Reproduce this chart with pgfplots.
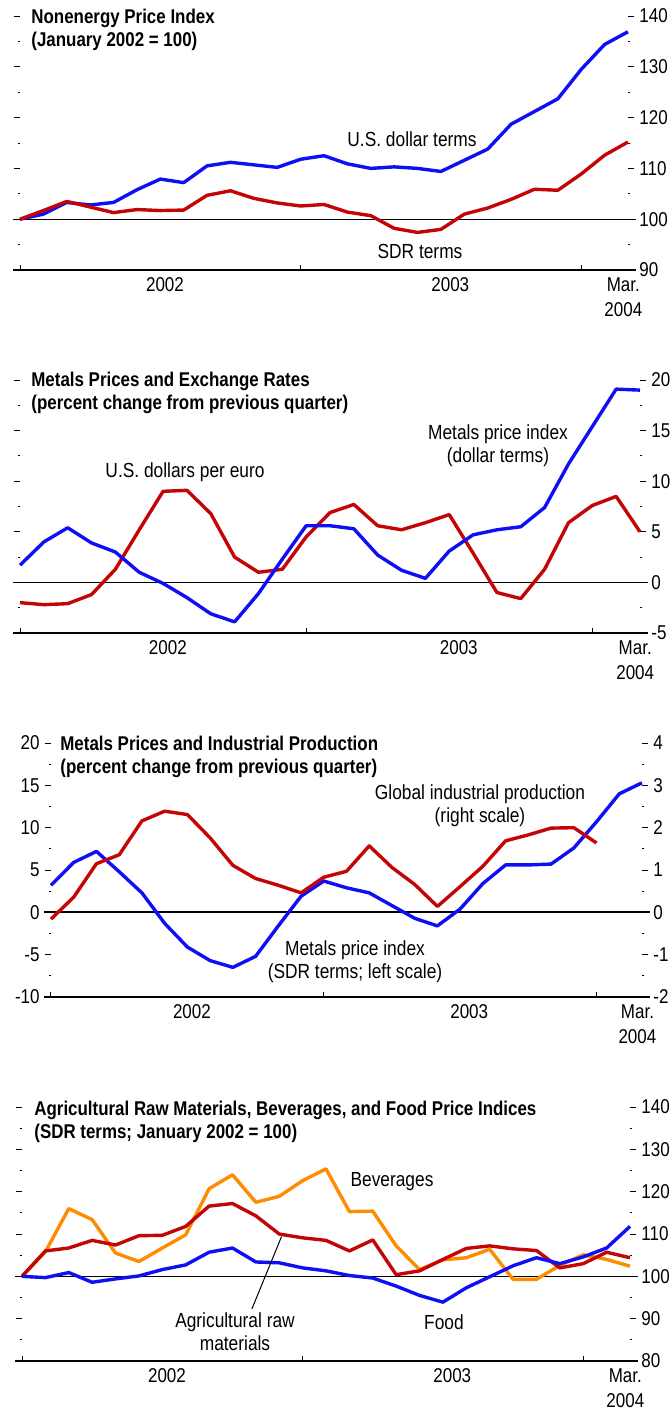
\documentclass[border=0pt]{standalone}
\usepackage{fontspec}
\setmainfont{Liberation Sans}[FakeStretch=0.85]
\usepackage{pgfplots}
\pgfplotsset{compat=1.18}
\definecolor{cblue}{RGB}{15,15,245}
\definecolor{cred}{RGB}{195,5,5}
\definecolor{corange}{RGB}{255,140,0}
\newcommand\tfont{\fontsize{10}{12.5}\selectfont}
\newcommand\afont{\fontsize{10.2}{11.5}\selectfont}
\newcommand\hfont{\bfseries\fontsize{9.95}{11.5}\selectfont}
\pgfplotsset{
  base/.style={
    scale only axis, clip=false,
    axis line style={draw=none},
    xmin=0, xmax=26,
    xtick={6.2,18.4,25.8},
    xticklabels={2002,2003,{Mar.\\2004}},
    major x tick style={draw=none},
    xticklabel style={font=\tfont, align=center, anchor=north, inner sep=0pt, yshift=-0.5pt},
    tick align=outside,
    major tick length=3pt, minor tick length=1.2pt,
    tick style={black, line width=0.5pt},
    minor y tick num=1,
    yticklabel style={font=\tfont, inner sep=0pt},
    /pgf/number format/assume math mode=true,
    every axis plot/.append style={line width=1.7pt, line join=round},
  },
  rightlab/.style={yticklabel pos=right, ytick pos=both, yticklabel style={anchor=west, xshift=2.5pt}},
}
\newcommand\yearticks[1]{%
  \draw[black, line width=0.5pt] (axis cs:0,#1) -- ([yshift=2.5pt]axis cs:0,#1);
  \draw[black, line width=0.5pt] (axis cs:12,#1) -- ([yshift=2.5pt]axis cs:12,#1);
  \draw[black, line width=0.5pt] (axis cs:24,#1) -- ([yshift=2.5pt]axis cs:24,#1);}
\begin{document}
\begin{tikzpicture}
\useasboundingbox (0,0) rectangle (335pt,-707pt);
% ---------------- Panel 1
\begin{axis}[base, rightlab, at={(10pt,-135pt)}, anchor=south west, width=304pt, height=127pt,
  ymin=90, ymax=140, ytick={90,100,...,140}]
\draw[black, line width=0.5pt] ([xshift=-3.5pt]axis cs:0,100) -- ([xshift=4pt]axis cs:26,100);
\draw[black, line width=0.6pt] ([xshift=-3.5pt]axis cs:0,90) -- ([xshift=4pt]axis cs:26,90);
\yearticks{90}
\addplot[cblue] coordinates {(0,100)(1,101)(2,103.3)(3,102.8)(4,103.3)(5,105.8)(6,107.9)(7,107.2)(8,110.5)(9,111.2)(10,110.7)(11,110.2)(12,111.8)(13,112.5)(14,110.9)(15,110)(16,110.3)(17,110)(18,109.4)(19,111.6)(20,113.8)(21,118.7)(22,121.2)(23,123.7)(24,129.5)(25,134.4)(26,136.9)};
\addplot[cred] coordinates {(0,100)(1,101.7)(2,103.5)(3,102.4)(4,101.3)(5,101.9)(6,101.7)(7,101.8)(8,104.7)(9,105.6)(10,104.1)(11,103.2)(12,102.6)(13,102.9)(14,101.4)(15,100.7)(16,98.2)(17,97.4)(18,98)(19,101)(20,102.2)(21,103.9)(22,105.9)(23,105.7)(24,108.9)(25,112.6)(26,115.2)};
\end{axis}
\node[anchor=north west, inner sep=0pt, align=left, font=\hfont] at (15.5pt,-4.5pt) {Nonenergy Price Index\\(January 2002 = 100)};
\node[font=\afont] at (206pt,-69.5pt) {U.S. dollar terms};
\node[font=\afont] at (210pt,-125.5pt) {SDR terms};
% ---------------- Panel 2
\begin{axis}[base, rightlab, at={(10pt,-316.5pt)}, anchor=south west, width=310pt, height=126.5pt,
  ymin=-5, ymax=20, ytick={-5,0,...,20}]
\draw[black, line width=0.5pt] ([xshift=-3.5pt]axis cs:0,0) -- ([xshift=4pt]axis cs:26,0);
\draw[black, line width=0.6pt] ([xshift=-3.5pt]axis cs:0,-5) -- ([xshift=4pt]axis cs:26,-5);
\yearticks{-5}
\addplot[cred] coordinates {(0,-2.0)(1,-2.2)(2,-2.1)(3,-1.2)(4,1.3)(5,5.2)(6,9.0)(7,9.1)(8,6.8)(9,2.5)(10,1.0)(11,1.3)(12,4.5)(13,6.9)(14,7.7)(15,5.6)(16,5.2)(17,5.9)(18,6.7)(19,2.9)(20,-1.0)(21,-1.6)(22,1.3)(23,5.9)(24,7.6)(25,8.5)(26,5.0)};
\addplot[cblue] coordinates {(0,1.7)(1,4.0)(2,5.4)(3,3.9)(4,3.0)(5,1.0)(6,-0.1)(7,-1.5)(8,-3.1)(9,-3.9)(10,-1.1)(11,2.3)(12,5.6)(13,5.6)(14,5.3)(15,2.7)(16,1.2)(17,0.4)(18,3.1)(19,4.7)(20,5.2)(21,5.5)(22,7.4)(23,11.7)(24,15.4)(25,19.1)(26,19.0)};
\end{axis}
\node[anchor=north west, inner sep=0pt, align=left, font=\hfont] at (15.5pt,-186pt) {Metals Prices and Exchange Rates\\(percent change from previous quarter)};
\node[font=\afont] at (92.5pt,-236pt) {U.S. dollars per euro};
\node[font=\afont, align=center] at (249pt,-223pt) {Metals price index\\(dollar terms)};
% ---------------- Panel 3
\begin{axis}[base, at={(25.5pt,-498.5pt)}, anchor=south west, width=295.5pt, height=127pt,
  ymin=-10, ymax=20, ytick={-10,-5,...,20}, ytick pos=left, yticklabel pos=left,
  yticklabel style={anchor=east, xshift=-2.5pt}]
\draw[black, line width=1pt] ([xshift=-3.5pt]axis cs:0,0) -- ([xshift=4pt]axis cs:26,0);
\draw[black, line width=0.6pt] ([xshift=-3.5pt]axis cs:0,-10) -- ([xshift=4pt]axis cs:26,-10);
\yearticks{-10}
\addplot[cblue] coordinates {(0,3.2)(1,5.9)(2,7.2)(3,4.8)(4,2.3)(5,-1.3)(6,-4.1)(7,-5.7)(8,-6.5)(9,-5.2)(10,-1.6)(11,1.9)(12,3.7)(13,2.9)(14,2.3)(15,0.8)(16,-0.7)(17,-1.6)(18,0.4)(19,3.4)(20,5.6)(21,5.6)(22,5.7)(23,7.6)(24,10.7)(25,14.0)(26,15.3)};
\end{axis}
\begin{axis}[base, at={(25.5pt,-498.5pt)}, anchor=south west, width=295.5pt, height=127pt,
  ymin=-2, ymax=4, ytick={-2,-1,...,4}, xtick=\empty,
  yticklabel pos=right, ytick pos=right, yticklabel style={anchor=west, xshift=2.5pt}]
\addplot[cred] coordinates {(0,-0.16)(1,0.36)(2,1.15)(3,1.36)(4,2.16)(5,2.39)(6,2.31)(7,1.76)(8,1.11)(9,0.80)(10,0.64)(11,0.46)(12,0.83)(13,0.97)(14,1.57)(15,1.06)(16,0.66)(17,0.14)(18,0.61)(19,1.09)(20,1.69)(21,1.83)(22,1.99)(23,2.0)(24,1.64)};
\end{axis}
\node[anchor=north west, inner sep=0pt, align=left, font=\hfont] at (30pt,-368pt) {Metals Prices and Industrial Production\\(percent change from previous quarter)};
\node[font=\afont, align=center] at (240pt,-403pt) {Global industrial production\\(right scale)};
\node[font=\afont, align=center] at (177.5pt,-481pt) {Metals price index\\(SDR terms; left scale)};
% ---------------- Panel 4
\begin{axis}[base, rightlab, at={(11pt,-680.5pt)}, anchor=south west, width=304pt, height=127pt,
  ymin=80, ymax=140, ytick={80,90,...,140}]
\draw[black, line width=0.5pt] ([xshift=-3.5pt]axis cs:0,100) -- ([xshift=4pt]axis cs:26,100);
\draw[black, line width=0.6pt] ([xshift=-3.5pt]axis cs:0,80) -- ([xshift=4pt]axis cs:26,80);
\yearticks{80}
\addplot[corange] coordinates {(0,100)(1,105.8)(2,116)(3,113.4)(4,105.5)(5,103.5)(6,106.7)(7,109.8)(8,120.7)(9,124)(10,117.5)(11,118.9)(12,122.6)(13,125.4)(14,115.3)(15,115.4)(16,107.2)(17,101.6)(18,103.9)(19,104.4)(20,106.4)(21,99.3)(22,99.3)(23,102.6)(24,105.1)(25,104)(26,102.4)};
\addplot[cred] coordinates {(0,100)(1,106)(2,106.7)(3,108.5)(4,107.4)(5,109.6)(6,109.7)(7,111.8)(8,116.6)(9,117.2)(10,114.3)(11,110)(12,109.1)(13,108.5)(14,106)(15,108.6)(16,100.4)(17,101.3)(18,104)(19,106.6)(20,107.2)(21,106.5)(22,106.1)(23,102)(24,103)(25,105.7)(26,104.4)};
\addplot[cblue] coordinates {(0,100)(1,99.7)(2,100.9)(3,98.6)(4,99.4)(5,100.1)(6,101.6)(7,102.7)(8,105.7)(9,106.7)(10,103.4)(11,103.2)(12,102)(13,101.3)(14,100.2)(15,99.6)(16,97.7)(17,95.5)(18,93.9)(19,97.3)(20,99.9)(21,102.5)(22,104.4)(23,103)(24,104.6)(25,106.7)(26,111.8)};
\draw[black, line width=0.5pt] (axis cs:9.83,92.3) -- (axis cs:11.1,109.4);
\end{axis}
\node[anchor=north west, inner sep=0pt, align=left, font=\hfont] at (17pt,-550.5pt) {Agricultural Raw Materials, Beverages, and Food Price Indices\\(SDR terms; January 2002 = 100)};
\node[font=\afont] at (196pt,-591pt) {Beverages};
\node[font=\afont, align=center] at (117.5pt,-666pt) {Agricultural raw\\materials};
\node[font=\afont] at (222pt,-661pt) {Food};
\end{tikzpicture}
\end{document}
